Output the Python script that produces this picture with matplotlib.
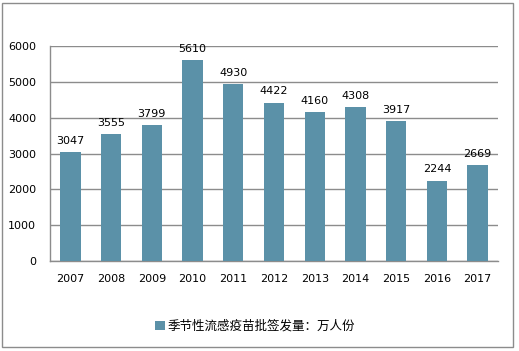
import matplotlib.pyplot as plt
from matplotlib.patches import Rectangle

plt.rcParams['font.family'] = ['DejaVu Sans', 'Noto Sans CJK SC']

# 数据
years = ['2007', '2008', '2009', '2010', '2011', '2012', '2013', '2014', '2015', '2016', '2017']
values = [3047, 3555, 3799, 5610, 4930, 4422, 4160, 4308, 3917, 2244, 2669]
label = '季节性流感疫苗批签发量：万人份'
yticks = [0, 1000, 2000, 3000, 4000, 5000, 6000]

bar_color = '#5B91A8'
grid_color = '#8C8C8C'

fig = plt.figure(figsize=(5.19, 3.51), dpi=100)
ax = fig.add_axes([50 / 519, 1 - 261 / 351, 448 / 519, 215 / 351])

x = range(len(years))
bars = ax.bar(x, values, width=0.5, color=bar_color, label=label, zorder=3)
for xi, v in zip(x, values):
    ax.text(xi, v + 170, str(v), ha='center', va='bottom', fontsize=8, zorder=4)

ax.set_xlim(-0.5, len(years) - 0.5)
ax.set_ylim(0, 6000)
ax.set_yticks(yticks)
ax.set_xticks(list(x))
ax.set_xticklabels(years)
ax.tick_params(axis='both', length=0, labelsize=8)
ax.tick_params(axis='x', pad=9)
ax.tick_params(axis='y', pad=10)
ax.yaxis.grid(True, color=grid_color, linewidth=1, zorder=0)
for s in ['top', 'right']:
    ax.spines[s].set_visible(False)
for s in ['left', 'bottom']:
    ax.spines[s].set_color(grid_color)
    ax.spines[s].set_linewidth(1)

fig.legend(handles=[bars], labels=[label], loc='center', bbox_to_anchor=(255 / 519, 1 - 326 / 351),
           frameon=False, handlelength=0.75, handleheight=0.75, handletextpad=0.2,
           prop={'family': ['Noto Sans CJK SC', 'DejaVu Sans'], 'size': 9})

# 外框
fig.patches.append(Rectangle((1.5 / 519, 1 - 346.5 / 351), 511 / 519, 344 / 351,
                             transform=fig.transFigure, fill=False,
                             edgecolor='#8C8C8C', linewidth=1))

fig.savefig('out.png', dpi=100)
